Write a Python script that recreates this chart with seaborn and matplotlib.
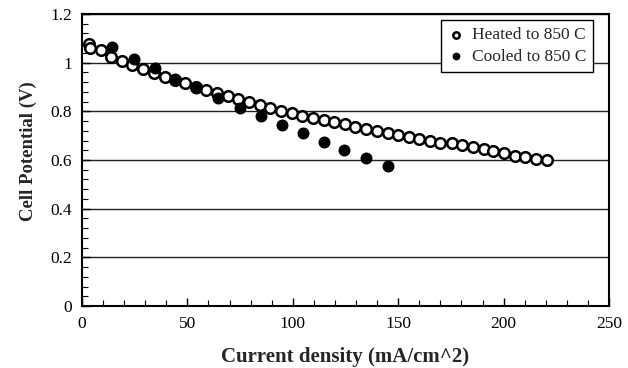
import matplotlib
matplotlib.use("Agg")
import matplotlib.pyplot as plt
from matplotlib.ticker import MultipleLocator
import seaborn as sns
import pandas as pd

# Polarisation data: current density (mA/cm^2) vs cell potential (V)
heated_current = [3.5, 4.0, 8.9, 13.9, 18.8, 23.9, 28.9, 34.1, 39.2, 44.1, 49.0,
                  54.0, 58.9, 63.9, 69.1, 74.2, 79.4, 84.4, 89.3, 94.4, 99.5,
                  104.6, 109.6, 114.6, 119.7, 124.8, 129.6, 134.7, 140.0, 145.0,
                  150.0, 154.9, 160.0, 165.0, 169.9, 175.3, 180.2, 185.3, 190.5,
                  195.2, 200.0, 205.3, 210.2, 215.6, 220.4]
heated_potential = [1.075, 1.06, 1.052, 1.025, 1.007, 0.99, 0.973, 0.956, 0.94,
                    0.928, 0.915, 0.898, 0.886, 0.876, 0.863, 0.852, 0.839, 0.827,
                    0.812, 0.803, 0.792, 0.782, 0.773, 0.763, 0.755, 0.746, 0.737,
                    0.727, 0.718, 0.71, 0.703, 0.695, 0.686, 0.676, 0.669, 0.668,
                    0.661, 0.655, 0.644, 0.635, 0.627, 0.618, 0.611, 0.606, 0.600]

cooled_current = [14.0, 24.7, 34.6, 44.1, 54.1, 64.6, 75.0, 84.7, 94.8, 104.9,
                  114.8, 124.4, 134.7, 145.2]
cooled_potential = [1.064, 1.017, 0.977, 0.933, 0.896, 0.853, 0.813, 0.780,
                    0.742, 0.710, 0.672, 0.641, 0.608, 0.577]

series_names = ["Heated to 850 C", "Cooled to 850 C"]

heated = pd.DataFrame({"current": heated_current, "potential": heated_potential})
cooled = pd.DataFrame({"current": cooled_current, "potential": cooled_potential})

sns.set_theme(style="white")
plt.rcParams["font.family"] = ["Liberation Serif", "DejaVu Serif"]

fig = plt.figure(figsize=(6.28, 3.68), dpi=100)
ax = fig.add_axes([0.1306, 0.1685, 0.8391, 0.7935])

# horizontal gridlines at each major y tick
ax.set_axisbelow(True)
ax.yaxis.grid(True, which="major", color="#222222", linewidth=1.0)
ax.xaxis.grid(False)

sns.scatterplot(data=heated, x="current", y="potential", ax=ax,
                marker="o", s=58, color="white", edgecolor="black",
                linewidth=1.8, label=series_names[0], zorder=3)
sns.scatterplot(data=cooled, x="current", y="potential", ax=ax,
                marker="o", s=58, color="black", edgecolor="black",
                linewidth=1.0, label=series_names[1], zorder=4)

ax.set_xlim(0, 250)
ax.set_ylim(0, 1.2)
ax.xaxis.set_major_locator(MultipleLocator(50))
ax.xaxis.set_minor_locator(MultipleLocator(10))
ax.yaxis.set_minor_locator(MultipleLocator(0.04))
ax.set_yticks([0, 0.2, 0.4, 0.6, 0.8, 1.0, 1.2])
ax.set_yticklabels(["0", "0.2", "0.4", "0.6", "0.8", "1", "1.2"])

ax.tick_params(axis="both", which="major", direction="in", length=6,
               width=1.0, color="black", labelsize=12.5, labelcolor="black",
               pad=7)
ax.tick_params(axis="both", which="minor", direction="in", length=4,
               width=0.8, color="black")
ax.tick_params(axis="x", which="both", bottom=True)
ax.tick_params(axis="y", which="both", left=True)

for sp in ax.spines.values():
    sp.set_color("black")
    sp.set_linewidth(1.5)

ax.set_xlabel("Current density (mA/cm^2)", fontsize=15, fontweight="bold",
              labelpad=11)
ax.set_ylabel("Cell Potential (V)", fontsize=13.5, fontweight="bold")
ax.yaxis.set_label_coords(-0.085, 0.53)

handles, labels = ax.get_legend_handles_labels()
leg = ax.legend(handles, labels,
                loc="upper right", bbox_to_anchor=(0.970, 0.979),
                fontsize=12.5, frameon=True, fancybox=False, framealpha=1,
                edgecolor="black", markerscale=0.6, handletextpad=0.4,
                borderpad=0.4, labelspacing=0.3, handlelength=1.0,
                borderaxespad=0)
leg.get_frame().set_linewidth(1.0)

fig.savefig("out.png", dpi=100)
